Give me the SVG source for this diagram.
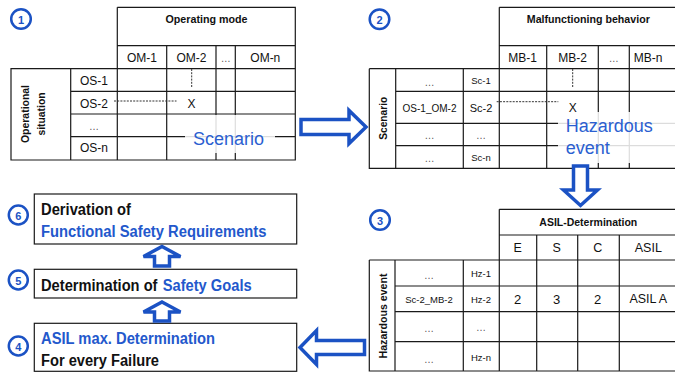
<svg xmlns="http://www.w3.org/2000/svg" width="675" height="373" viewBox="0 0 675 373">
<style>
.ln{stroke:#1a1a1a;stroke-width:1.2;fill:none}
.dot{stroke:#333;stroke-width:1;stroke-dasharray:2,1.2;fill:none}
.t{font-family:"Liberation Sans",Arial,sans-serif;fill:#111;text-anchor:middle;dominant-baseline:central}
.hb{font-weight:bold;font-size:11px}
.c12{font-size:12px}
.c10{font-size:9.5px}
.el{font-size:10px;fill:#555}
.big{font-family:"Liberation Sans",Arial,sans-serif;font-size:18px;fill:#2b5fd1}
.bx{font-family:"Liberation Sans",Arial,sans-serif;font-size:16px;font-weight:bold;fill:#111}
.blue{fill:#2358cc}
.arr{fill:#fff;stroke:#1b52c4;stroke-width:3.5;stroke-linejoin:miter}
.circ{fill:#fff;stroke:#1b52c4;stroke-width:2.5}
.num{font-family:"Liberation Sans",Arial,sans-serif;font-size:11px;font-weight:bold;fill:#1b52c4;text-anchor:middle;dominant-baseline:central}
.box{fill:#fff;stroke:#1a1a1a;stroke-width:1.2}
.veil{fill:#fff;opacity:0.85}
</style>

<!-- Table 1 -->
<g id="table1">
  <path class="ln" d="M117.3,7.3 H295.3 V160 H11 V68.7 H295.3 M117.3,7.3 V160 M117.3,45.7 H295.3 M166.7,45.7 V160 M216,45.7 V160 M235.3,45.7 V160 M70.7,68.7 V160 M70.7,91.3 H295.3 M70.7,114 H295.3 M70.7,136.7 H295.3"/>
  <text class="t hb" x="206.5" y="18.5" textLength="82" lengthAdjust="spacingAndGlyphs">Operating mode</text>
  <text class="t c12" x="142" y="58">OM-1</text>
  <text class="t c12" x="191.5" y="58">OM-2</text>
  <text class="t el" x="225.7" y="58">…</text>
  <text class="t c12" x="265.3" y="58">OM-n</text>
  <text class="t c12" x="94" y="80.5">OS-1</text>
  <text class="t c12" x="94" y="103.5">OS-2</text>
  <text class="t el" x="94" y="126">…</text>
  <text class="t c12" x="94" y="148">OS-n</text>
  <g transform="translate(33,114) rotate(-90)">
    <text class="t hb" x="0" y="-8" textLength="58" lengthAdjust="spacingAndGlyphs">Operational</text>
    <text class="t hb" x="0" y="8" textLength="43" lengthAdjust="spacingAndGlyphs">situation</text>
  </g>
  <path class="dot" d="M191.7,69 V87 M114,101 H176.5"/>
  <text class="t c12" x="191.5" y="104">X</text>
  <rect class="veil" x="185" y="115" width="90" height="38"/>
  <text class="big" x="193" y="145">Scenario</text>
</g>

<!-- Table 2 -->
<g id="table2">
  <path class="ln" d="M499.3,7.3 H680 M499.3,7.3 V168.3 M499.3,45.7 H680 M369.3,68.7 H680 M369.3,68.7 V168.3 H680 M395.7,68.7 V168.3 M463.3,68.7 V168.3 M546.7,45.7 V168.3 M598.3,45.7 V168.3 M629.3,45.7 V168.3 M395.7,91.3 H680 M395.7,123.3 H680 M395.7,145.7 H680"/>
  <text class="t hb" x="588.3" y="18.5" textLength="123" lengthAdjust="spacingAndGlyphs">Malfunctioning behavior</text>
  <text class="t c12" x="522.7" y="58">MB-1</text>
  <text class="t c12" x="572.7" y="58">MB-2</text>
  <text class="t el" x="613.8" y="58">…</text>
  <text class="t c12" x="648" y="58">MB-n</text>
  <text class="t el" x="429.5" y="82">…</text>
  <text class="t c10" x="481" y="80.5">Sc-1</text>
  <text class="t" style="font-size:10px" x="429.5" y="108">OS-1_OM-2</text>
  <text class="t" style="font-size:11px" x="481" y="108">Sc-2</text>
  <text class="t el" x="429.5" y="135.5">…</text>
  <text class="t el" x="481" y="135.5">…</text>
  <text class="t el" x="429.5" y="158">…</text>
  <text class="t c10" x="481" y="157">Sc-n</text>
  <text class="t hb" transform="translate(383.3,118.3) rotate(-90)" x="0" y="0" textLength="43" lengthAdjust="spacingAndGlyphs">Scenario</text>
  <path class="dot" d="M572.7,69 V88 M496.7,101.7 H558.3"/>
  <text class="t c12" x="572.7" y="108">X</text>
  <rect class="veil" x="558" y="112" width="117" height="51"/>
  <text class="big" x="565.7" y="132">Hazardous</text>
  <text class="big" x="565.7" y="154">event</text>
</g>

<!-- Table 3 -->
<g id="table3">
  <path class="ln" d="M499.3,209.3 H680 M499.3,209.3 V371 M499.3,235 H680 M369.3,260 H680 M369.3,260 V371 H680 M395,260 V371 M463.3,260 V371 M536.7,235 V371 M577.7,235 V371 M619.3,235 V371 M395,286 H680 M395,311.7 H680 M395,341.7 H680"/>
  <text class="t hb" x="588.3" y="221.7" textLength="98" lengthAdjust="spacingAndGlyphs">ASIL-Determination</text>
  <text class="t" style="font-size:12.5px" x="517.7" y="248">E</text>
  <text class="t" style="font-size:12.5px" x="556.7" y="248">S</text>
  <text class="t" style="font-size:12.5px" x="597.7" y="248">C</text>
  <text class="t" style="font-size:12.5px" x="648.3" y="248">ASIL</text>
  <text class="t el" x="429" y="275">…</text>
  <text class="t c10" x="481" y="273.3">Hz-1</text>
  <text class="t c10" x="429" y="299.3">Sc-2_MB-2</text>
  <text class="t c10" x="481" y="299.3">Hz-2</text>
  <text class="t" style="font-size:13px" x="517.7" y="299.3">2</text>
  <text class="t" style="font-size:13px" x="556.7" y="299.3">3</text>
  <text class="t" style="font-size:13px" x="597.7" y="299.3">2</text>
  <text class="t" style="font-size:12.5px" x="648.3" y="299.3">ASIL A</text>
  <text class="t el" x="429" y="328">…</text>
  <text class="t el" x="481" y="327">…</text>
  <text class="t el" x="429" y="359">…</text>
  <text class="t c10" x="481" y="357">Hz-n</text>
  <text class="t hb" transform="translate(382.7,316) rotate(-90)" x="0" y="0" textLength="85" lengthAdjust="spacingAndGlyphs">Hazardous event</text>
</g>

<!-- Step boxes -->
<g id="step6">
  <rect class="box" x="34.3" y="194" width="262.4" height="50"/>
  <text class="bx" x="41" y="215" textLength="90" lengthAdjust="spacingAndGlyphs">Derivation of</text>
  <text class="bx blue" x="41" y="237.3" textLength="225.5" lengthAdjust="spacingAndGlyphs">Functional Safety Requirements</text>
</g>
<g id="step5">
  <rect class="box" x="34.3" y="269.3" width="262.4" height="28.7"/>
  <text class="bx" x="41" y="291" textLength="116.5" lengthAdjust="spacingAndGlyphs">Determination of</text>
  <text class="bx blue" x="162.7" y="291" textLength="89" lengthAdjust="spacingAndGlyphs">Safety Goals</text>
</g>
<g id="step4">
  <rect class="box" x="34.3" y="323.3" width="262.4" height="48"/>
  <text class="bx blue" x="41" y="344" textLength="174" lengthAdjust="spacingAndGlyphs">ASIL max. Determination</text>
  <text class="bx" x="41" y="366" textLength="118" lengthAdjust="spacingAndGlyphs">For every Failure</text>
</g>

<!-- Step numbers -->
<g id="n1"><circle class="circ" cx="21" cy="19" r="9.8"/><text class="num" x="21" y="19.5">1</text></g>
<g id="n2"><circle class="circ" cx="379.5" cy="19.2" r="9.8"/><text class="num" x="379.5" y="19.7">2</text></g>
<g id="n3"><circle class="circ" cx="380" cy="220" r="9.8"/><text class="num" x="380" y="220.5">3</text></g>
<g id="n6"><circle class="circ" cx="18.3" cy="215" r="9.5"/><text class="num" x="18.3" y="215.5">6</text></g>
<g id="n5"><circle class="circ" cx="18.3" cy="280" r="9.5"/><text class="num" x="18.3" y="280.5">5</text></g>
<g id="n4"><circle class="circ" cx="18.3" cy="346" r="9.5"/><text class="num" x="18.3" y="346.5">4</text></g>

<!-- Connectors -->
<g id="connectors">
  <path class="arr" d="M301,119.5 H349 V110.5 L366,127 L349,143.5 V134.5 H301 Z"/>
  <path class="arr" d="M573.5,166 H587.5 V190 H597.5 L580.5,205.5 L563.5,190 H573.5 Z"/>
  <path class="arr" d="M364.5,340.5 H316.5 V330.5 L300,347.5 L316.5,364.5 V354.5 H364.5 Z"/>
  <path class="arr" d="M162,246.5 L180.5,256.5 H169.5 V266 H154.5 V256.5 H143.5 Z"/>
  <path class="arr" d="M162,302 L180.5,312 H169.5 V321 H154.5 V312 H143.5 Z"/>
</g>
</svg>
